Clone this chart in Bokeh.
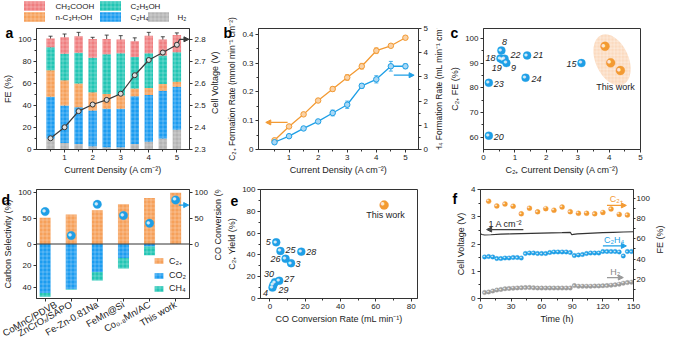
import math
import numpy as np
from bokeh.plotting import figure
from bokeh.models import (Range1d, LinearAxis, Whisker, TeeHead, Arrow, NormalHead, Label,
                          Legend, LegendItem, ColumnDataSource, FixedTicker,
                          CustomJSTickFormatter, Span)
from bokeh.layouts import row, column
from bokeh.core.properties import value
from bokeh.embed import file_html
from bokeh.resources import INLINE

FONT = "Liberation Sans"

# ---------------- data: panel a ----------------
a_j = [0.5, 1.0, 1.5, 2.0, 2.5, 3.0, 3.5, 4.0, 4.5, 5.0]
a_h2 = [10, 6, 5, 3, 2, 2, 5, 7, 10, 18]
a_c2h4 = [38, 34, 33.5, 32.5, 35, 35, 43.5, 42.5, 43.5, 39]
a_c3 = [24, 23, 21.5, 16.5, 13.5, 12, 7, 6.5, 6, 4.5]
a_etoh = [21, 24, 28, 31.5, 36, 38.5, 28.5, 31.5, 26, 27]
a_acoh = [8, 15, 15, 17, 14, 12.5, 14.5, 16, 14.5, 15.5]
a_err_h2 = [2, 1.5, 1.5, 1, 1, 1, 2, 2, 3, 1]
a_err_c2h4 = [1.5, 3, 1.5, 1.5, 3, 3, 1.5, 2, 2, 1]
a_err_c3 = [2, 0.5, 1.5, 0.5, 3, 4, 3, 1, 2, 1]
a_err_etoh = [2, 2, 2, 1.5, 2, 2.5, 4, 2, 2, 1.5]
a_err_acoh = [2, 3, 3.5, 1.5, 3.5, 3.5, 3, 3, 2.5, 2]
a_volt = [2.351, 2.401, 2.474, 2.504, 2.525, 2.553, 2.637, 2.706, 2.740, 2.775]
a_volt_err = [0.006, 0.006, 0.008, 0.006, 0.008, 0.010, 0.012, 0.012, 0.010, 0.006]
a_labels = ["H\u2082", "C\u2082H\u2084", "n-C\u2083H\u2087OH", "C\u2082H\u2085OH", "CH\u2083COOH"]

# ---------------- data: panel b ----------------
b_j = [0.5, 1.0, 1.5, 2.0, 2.5, 3.0, 3.5, 4.0, 4.5, 5.0]
b_c2 = [0.032, 0.080, 0.122, 0.170, 0.210, 0.250, 0.289, 0.343, 0.360, 0.388]
b_c2_err = [0.004, 0.004, 0.004, 0.004, 0.008, 0.010, 0.010, 0.010, 0.003, 0.005]
b_c2h4 = [0.30, 0.55, 0.87, 1.16, 1.51, 1.85, 2.63, 2.90, 3.44, 3.44]
b_c2h4_err = [0.05, 0.05, 0.05, 0.05, 0.12, 0.15, 0.10, 0.15, 0.20, 0.10]

# ---------------- data: panel c ----------------
c_lbl = ["8", "18", "22", "19", "9", "21", "15", "23", "24", "20"]
c_j = [0.57, 0.54, 0.67, 0.61, 0.73, 1.39, 3.12, 0.17, 1.34, 0.17]
c_fe = [95.1, 91.9, 91.8, 91.3, 90.0, 93.1, 90.0, 82.0, 84.1, 60.6]
c_dx = [3, -10, 11, -6, 7, 11, -10, 10, 11, 10]
c_dy = [-8, 0, -4, 8, 5, 0, 1, 1, 1, 1]
c_tw_j = [3.87, 4.05, 4.36]
c_tw_fe = [96.8, 90.1, 87.0]

# ---------------- data: panel d ----------------
d_names = ["CoMnC/PDVB", "ZnCrO\u2093/SAPO", "Fe-Zn-0.81Na", "FeMn@Si", "Co\u2080.\u2088Mn/AC", "This work"]
d_c2 = [50.5, 56.7, 65.2, 76.4, 88.8, 98.9]
d_co2 = [45.0, 41.5, 25.6, 12.8, 2.4, 0.0]
d_ch4 = [3.3, 0.5, 8.0, 9.6, 8.0, 0.0]
d_conv = [62.4, 16.3, 76.4, 55.0, 40.0, 84.8]

# ---------------- data: panel e ----------------
e_lbl = ["5", "25", "28", "26", "3", "27", "30", "29", "4"]
e_rate = [3.6, 6.0, 17.8, 8.9, 12.0, 5.3, 2.9, 2.0, 1.5]
e_yield = [51.5, 43.5, 43.0, 36.4, 32.4, 16.3, 15.0, 12.5, 10.0]
e_dx = [-8, 10, 10, -10, 7, 10, -6, 10, -7]
e_dy = [0, -1, 0, 0, 1, -2, -8, 5, 5]
e_tw_rate = [64.7]
e_tw_yield = [85.7]

# ---------------- data: panel f ----------------
f_t_c2 = [8, 16, 24, 32, 40, 48, 56, 64, 72, 80, 88, 96, 104, 112, 120, 128, 136, 144]
f_fe_c2 = [97.3, 92.7, 94.6, 92.4, 84.9, 90.5, 86.8, 90.0, 88.4, 91.6, 87.0, 85.4, 85.4,
           84.9, 86.2, 89.7, 84.3, 83.8]
f_t = [4, 8, 12, 16, 20, 24, 28, 32, 36, 40, 44, 48, 52, 56, 60, 64, 68, 72, 76, 80, 84, 88,
       92, 96, 100, 104, 108, 112, 116, 120, 124, 128, 132, 136, 140, 144, 148]
f_fe_c2h4 = [42, 42.5, 42, 40.5, 40.5, 41, 41, 41.5, 41.5, 41, 45.5, 46, 46, 45.5, 45.5, 45.5,
             46.5, 47, 47, 47, 47, 46.5, 43.5, 44, 44.5, 45.5, 46, 46, 46, 47.5, 47.5, 47.5,
             47.5, 47, 43, 47.5, 47.5]
f_fe_h2 = [6.8, 7.3, 8.2, 9.2, 9.8, 10.5, 10.8, 11.0, 11.3, 11.5, 11.6, 11.8, 11.4, 11.2, 11.2,
           11.2, 11.2, 11.2, 11.2, 11.2, 11.2, 11.2, 13.6, 13.0, 13.0, 13.0, 13.0, 13.2, 13.3,
           13.5, 13.7, 14.0, 14.4, 15.0, 16.0, 16.6, 17.0]
f_vt = [0, 1.5, 4, 10, 20, 30, 40, 50, 60, 70, 80, 88, 89.5, 91, 95, 100, 110, 120, 130, 140, 150]
f_v = [2.37, 2.35, 2.33, 2.34, 2.36, 2.37, 2.38, 2.39, 2.40, 2.41, 2.42, 2.43, 2.34, 2.35,
       2.37, 2.38, 2.40, 2.42, 2.43, 2.44, 2.45]

# ---------------- colours ----------------
C_RED = "#EF7E80"
C_TEAL = "#22C5B4"
C_ORANGE = "#F6A05A"
C_BLUE = "#1C9CF0"
C_GRAY = "#B4B4B4"
M_ORANGE = "#F39A33"
M_BLUE = "#1E9FE6"
M_GRAY = "#9C9C9C"
HATCH = dict(hatch_pattern="+", hatch_color="white", hatch_alpha=0.45, hatch_scale=4.0, hatch_weight=0.6)

# ---------------- layout sizes ----------------
R1_H = 177          # first row height
R1_TOP = 28         # top border of b, c
R1_BOT = 22         # bottom border of row-1 panels
LG_H = 22           # legend strip above panel a
PA_TOP = 6
R2_H = 169          # second row height
R2_TOP = 12
R2_BOT = 26
D_BOT = 36


def ax_style(ax):
    ax.axis_label_text_font = FONT
    ax.axis_label_text_font_size = "9px"
    ax.axis_label_text_font_style = "normal"
    ax.axis_label_text_color = "#222222"
    ax.axis_label_standoff = 2
    ax.major_label_text_font = FONT
    ax.major_label_text_font_size = "8px"
    ax.major_label_text_color = "#222222"
    ax.major_label_standoff = 2
    ax.major_tick_in = 0
    ax.major_tick_out = 3
    ax.minor_tick_in = 0
    ax.minor_tick_out = 2
    ax.axis_line_color = "#333333"
    ax.major_tick_line_color = "#333333"
    ax.minor_tick_line_color = "#333333"


def fig_style(p):
    p.xgrid.visible = False
    p.ygrid.visible = False
    p.outline_line_color = "#333333"
    p.outline_line_alpha = 1.0
    p.background_fill_color = "white"
    p.border_fill_color = "white"
    for ax in p.axis:
        ax_style(ax)


def mkfig(w, h, l, r, t, b, xr, yr):
    return figure(width=w, height=h, x_range=xr, y_range=yr, output_backend="svg",
                  toolbar_location=None, min_border_left=l, min_border_right=r,
                  min_border_top=t, min_border_bottom=b)


def blank(w, h):
    s = figure(width=w, height=h, x_range=Range1d(0, w), y_range=Range1d(0, h),
               output_backend="svg", toolbar_location=None, x_axis_type=None, y_axis_type=None,
               min_border_left=0, min_border_right=0, min_border_top=0, min_border_bottom=0)
    s.xgrid.visible = False
    s.ygrid.visible = False
    s.outline_line_color = None
    s.background_fill_color = "white"
    s.border_fill_color = "white"
    return s


def vstrip(w, h, x, y, txt, size="9px"):
    """Narrow strip holding a right-hand axis title that reads bottom-to-top."""
    s = blank(w, h)
    s.text(x=[x], y=[y], text=[txt], angle=math.pi / 2, text_font=value(FONT),
           text_font_size=size, text_color="#222222", text_align="center", text_baseline="middle")
    return s


def letter(p, txt, offset, standoff):
    p.title.text = txt
    p.title.align = "left"
    p.title.offset = offset
    p.title.standoff = standoff
    p.title.text_font = FONT
    p.title.text_font_size = "14px"
    p.title.text_font_style = "bold"
    p.title.text_color = "black"


def arrow(p, x0, y0, x1, y1, color, yr="default"):
    p.add_layout(Arrow(end=NormalHead(size=5, fill_color=color, line_color=color),
                       x_start=x0, y_start=y0, x_end=x1, y_end=y1,
                       line_color=color, line_width=1.2, y_range_name=yr))


def note(p, x, y, txt, color="#222222", size="9px", yr="default"):
    p.add_layout(Label(x=x, y=y, text=txt, text_font=FONT, text_font_size=size,
                       text_color=color, text_align="center", text_baseline="middle",
                       y_range_name=yr))


def spheres(p, x, y, color, size, yr="default"):
    p.scatter(x=x, y=y, size=size, fill_color=color, line_color=color, line_alpha=0.6,
              line_width=0.5, y_range_name=yr)
    p.text(x=x, y=y, text=["\u25cf"] * len(x), text_color="white", text_alpha=0.8,
           text_font=value("DejaVu Sans"), text_font_size="%.1fpx" % (size * 0.5),
           x_offset=-size * 0.16, y_offset=-size * 0.14, text_align="center",
           text_baseline="middle", y_range_name=yr)


def whisk(p, x, lo, hi, color, yr="default"):
    src = ColumnDataSource(dict(x=x, lo=lo, hi=hi))
    p.add_layout(Whisker(source=src, base="x", lower="lo", upper="hi", line_color=color,
                         line_width=0.8, y_range_name=yr,
                         upper_head=TeeHead(size=4, line_color=color, line_width=0.8),
                         lower_head=TeeHead(size=4, line_color=color, line_width=0.8)))


# ================= panel a legend strip (pixel-unit canvas) =================
lg = blank(224, LG_H)
# legend layout: (label index, colour, patch-centre x, text x, row y)
lg_items = [(4, C_RED, 34, 55, 16.5), (3, C_TEAL, 110, 130, 16.5),
            (2, C_ORANGE, 34, 55, 5.5), (1, C_BLUE, 110, 130, 5.5), (0, C_GRAY, 158, 177, 5.5)]
lg.rect(x=[it[2] for it in lg_items], y=[it[4] for it in lg_items], width=21, height=9.5,
        fill_color=[it[1] for it in lg_items], line_color=None, **HATCH)
lg.text(x=[it[3] for it in lg_items], y=[it[4] for it in lg_items],
        text=[a_labels[it[0]] for it in lg_items], text_font=value(FONT), text_font_size="8px",
        text_color="#222222", text_align="left", text_baseline="middle")

# ================= panel a =================
PA_H = R1_H - LG_H
pa = mkfig(208, PA_H, 31, 19, PA_TOP, R1_BOT, Range1d(0, 5.45), Range1d(0, 110))
pa.extra_y_ranges = {"v": Range1d(2.3, 2.849)}
src_a = ColumnDataSource(dict(x=a_j, h2=a_h2, c2h4=a_c2h4, c3=a_c3, etoh=a_etoh, acoh=a_acoh))
rs = pa.vbar_stack(["h2", "c2h4", "c3", "etoh", "acoh"], x="x", width=0.3, source=src_a,
                   fill_color=[C_GRAY, C_BLUE, C_ORANGE, C_TEAL, C_RED], line_color=None, **HATCH)
stack = np.array([a_h2, a_c2h4, a_c3, a_etoh, a_acoh], dtype=float)
cum = np.cumsum(stack, axis=0)
errs = np.array([a_err_h2, a_err_c2h4, a_err_c3, a_err_etoh, a_err_acoh], dtype=float)
xs = np.tile(np.array(a_j), 5)
whisk(pa, xs, cum.ravel() - errs.ravel(), cum.ravel() + errs.ravel(), "#222222")
pa.line(a_j, a_volt, y_range_name="v", line_color="#3a3a3a", line_width=1.2)
pa.line([a_j[-1], a_j[-1] + 0.1], [a_volt[-1], 2.8], y_range_name="v", line_color="#3a3a3a", line_width=1.2)
arrow(pa, a_j[-1] + 0.1, 2.8, 5.43, 2.8, "#3a3a3a", "v")
whisk(pa, a_j, np.array(a_volt) - np.array(a_volt_err), np.array(a_volt) + np.array(a_volt_err), "#3a3a3a", "v")
pa.scatter(a_j, a_volt, y_range_name="v", size=5, fill_color="#dddddd", line_color="#333333", line_width=1)
pa.add_layout(LinearAxis(y_range_name="v",
                         ticker=FixedTicker(ticks=[2.3, 2.4, 2.5, 2.6, 2.7, 2.8],
                                            minor_ticks=[2.35, 2.45, 2.55, 2.65, 2.75])), "right")
pa.xaxis.ticker = FixedTicker(ticks=[1, 2, 3, 4, 5], minor_ticks=[0.5, 1.5, 2.5, 3.5, 4.5])
pa.xaxis.axis_label = "Current Density (A cm\u207b\u00b2)"
pa.left[0].ticker = FixedTicker(ticks=[0, 20, 40, 60, 80, 100], minor_ticks=[10, 30, 50, 70, 90])
pa.left[0].axis_label = "FE (%)"
fig_style(pa)
letter(pa, "a", -31, -25)
pa_fh = PA_H - PA_TOP - R1_BOT
sa = vstrip(16, PA_H, 6, PA_H - (PA_TOP + pa_fh / 2), "Cell Voltage (V)")

# ================= panel b =================
r1_fh = R1_H - R1_TOP - R1_BOT
pb = mkfig(208, R1_H, 33, 14, R1_TOP, R1_BOT, Range1d(-0.05, 5.45), Range1d(0, 0.42))
pb.extra_y_ranges = {"r": Range1d(0, 5)}
whisk(pb, b_j, np.array(b_c2) - np.array(b_c2_err), np.array(b_c2) + np.array(b_c2_err), M_ORANGE)
whisk(pb, b_j, np.array(b_c2h4) - np.array(b_c2h4_err), np.array(b_c2h4) + np.array(b_c2h4_err), M_BLUE, "r")
pb.line(b_j, b_c2, line_color=M_ORANGE, line_width=1.3)
pb.scatter(b_j, b_c2, size=5.5, fill_color="#FAD2A6", line_color=M_ORANGE, line_width=1)
pb.line(b_j, b_c2h4, y_range_name="r", line_color=M_BLUE, line_width=1.3)
pb.scatter(b_j, b_c2h4, y_range_name="r", size=5.5, fill_color="#A9D8F5", line_color=M_BLUE, line_width=1)
arrow(pb, 0.95, 0.094, 0.2, 0.094, M_ORANGE)
arrow(pb, 4.6, 3.07, 5.3, 3.07, M_BLUE, "r")
pb.add_layout(LinearAxis(y_range_name="r",
                         ticker=FixedTicker(ticks=[0, 1, 2, 3, 4, 5], minor_ticks=[0.5, 1.5, 2.5, 3.5, 4.5])), "right")
pb.xaxis.ticker = FixedTicker(ticks=[1, 2, 3, 4, 5], minor_ticks=[0.5, 1.5, 2.5, 3.5, 4.5])
pb.xaxis.axis_label = "Current Density (A cm\u207b\u00b2)"
pb.left[0].ticker = FixedTicker(ticks=[0, 0.1, 0.2, 0.3, 0.4], minor_ticks=[0.05, 0.15, 0.25, 0.35])
pb.left[0].axis_label = "C\u2082\u208a Formation Rate (mmol min\u207b\u00b9 cm\u207b\u00b2)"
fig_style(pb)
pb.left[0].axis_label_text_font_size = "8.5px"
letter(pb, "b", -35, -25)
sb = vstrip(15, R1_H, 6, R1_H - (R1_TOP + r1_fh / 2),
            "C\u2082H\u2084 Formation Rate (mL min\u207b\u00b9 cm\u207b\u00b2)", "8.5px")

# ================= panel c =================
pc = mkfig(221, R1_H, 33, 28, R1_TOP, R1_BOT, Range1d(0, 5), Range1d(55, 104))
tw_cx = float(np.mean(c_tw_j))
tw_cy = float(np.mean(c_tw_fe))
pc.ellipse(x=[tw_cx], y=[tw_cy], width=33, height=54, angle=0.42, width_units="screen",
           height_units="screen", fill_color="#F7AE72", fill_alpha=0.45, line_color=None,
           hatch_pattern="+", hatch_color="white", hatch_alpha=0.55, hatch_scale=3.5, hatch_weight=0.6)
spheres(pc, c_j, c_fe, M_BLUE, 8)
spheres(pc, c_tw_j, c_tw_fe, M_ORANGE, 9)
src_c = ColumnDataSource(dict(x=c_j, y=c_fe, t=c_lbl, dx=c_dx, dy=c_dy))
pc.text(x="x", y="y", text="t", x_offset="dx", y_offset="dy", source=src_c, text_font=value(FONT),
        text_font_size="9px", text_font_style="italic", text_color="#222222",
        text_align="center", text_baseline="middle")
note(pc, 4.2, 80.4, "This work")
pc.xaxis.ticker = FixedTicker(ticks=[0, 1, 2, 3, 4, 5], minor_ticks=[0.5, 1.5, 2.5, 3.5, 4.5])
pc.xaxis.axis_label = "C\u2082\u208a Current Density (A cm\u207b\u00b2)"
pc.yaxis.ticker = FixedTicker(ticks=[60, 70, 80, 90, 100], minor_ticks=[65, 75, 85, 95])
pc.yaxis.axis_label = "C\u2082\u208a FE (%)"
fig_style(pc)
letter(pc, "c", -33, -25)

# ================= panel d =================
POS = 105.0
NEG = 50.0
d_fh = R2_H - R2_TOP - D_BOT
pd_ = mkfig(211, R2_H, 36, 22, R2_TOP, D_BOT, Range1d(-0.33, 5.53), Range1d(-POS, POS))
pd_.extra_y_ranges = {"neg": Range1d(-NEG, NEG)}
d_x = list(range(len(d_names)))
co2 = np.array(d_co2)
ch4 = np.array(d_ch4)
r_c2 = pd_.vbar(x=d_x, top=d_c2, bottom=0, width=0.42, fill_color=C_ORANGE, line_color=None, **HATCH)
r_co2 = pd_.vbar(x=d_x, top=0, bottom=-co2, width=0.42, fill_color=C_BLUE, line_color=None,
                 y_range_name="neg", **HATCH)
r_ch4 = pd_.vbar(x=d_x, top=-co2, bottom=-(co2 + ch4), width=0.42, fill_color=C_TEAL,
                 line_color=None, y_range_name="neg", **HATCH)
pd_.add_layout(Span(location=0, dimension="width", line_color="#333333", line_width=1))
spheres(pd_, d_x, d_conv, M_BLUE, 8.5)
arrow(pd_, d_x[-1] + 0.12, 75, 5.5, 75, M_BLUE)
pd_.add_layout(LinearAxis(ticker=FixedTicker(ticks=[0, 50, 100])), "right")
pd_.left[0].ticker = FixedTicker(ticks=[100, 50, 0] + [-v * POS / NEG for v in (20, 40)])
pd_.left[0].formatter = CustomJSTickFormatter(
    code="return tick < 0 ? String(Math.round(-tick * %f / %f)) : String(Math.round(tick));" % (NEG, POS))
pd_.left[0].axis_label = "Carbon Selectivity (%)"
pd_.xaxis.ticker = FixedTicker(ticks=d_x)
pd_.xaxis.major_label_overrides = {i: n for i, n in enumerate(d_names)}
pd_.xaxis.major_label_orientation = 0.52
leg_d = Legend(items=[LegendItem(label="C\u2082\u208a", renderers=[r_c2]),
                      LegendItem(label="CO\u2082", renderers=[r_co2]),
                      LegendItem(label="CH\u2084", renderers=[r_ch4])],
               location=(117, 5), glyph_width=11, glyph_height=7, label_height=10, spacing=3,
               padding=0, margin=0, label_standoff=5, border_line_color=None,
               background_fill_alpha=0, label_text_font=FONT, label_text_font_size="9px",
               label_text_color="#222222")
pd_.add_layout(leg_d)
fig_style(pd_)
pd_.xaxis.major_label_text_font_size = "9.5px"
letter(pd_, "d", -35, -36)
sd = vstrip(13, R2_H, 6, R2_H - (R2_TOP + 0.31 * d_fh), "CO Conversion (%)")

# ================= panel e =================
r2_fh = R2_H - R2_TOP - R2_BOT
pe = mkfig(223, R2_H, 33, 30, R2_TOP, R2_BOT, Range1d(-5.3, 83.6), Range1d(0, 100))
spheres(pe, e_rate, e_yield, M_BLUE, 8)
spheres(pe, e_tw_rate, e_tw_yield, M_ORANGE, 9)
src_e = ColumnDataSource(dict(x=e_rate, y=e_yield, t=e_lbl, dx=e_dx, dy=e_dy))
pe.text(x="x", y="y", text="t", x_offset="dx", y_offset="dy", source=src_e, text_font=value(FONT),
        text_font_size="9px", text_font_style="italic", text_color="#222222",
        text_align="center", text_baseline="middle")
note(pe, 65.5, 76.5, "This work")
pe.xaxis.ticker = FixedTicker(ticks=[0, 20, 40, 60, 80], minor_ticks=[10, 30, 50, 70])
pe.xaxis.axis_label = "CO Conversion Rate (mL min\u207b\u00b9)"
pe.yaxis.ticker = FixedTicker(ticks=[0, 20, 40, 60, 80, 100], minor_ticks=[10, 30, 50, 70, 90])
pe.yaxis.axis_label = "C\u2082\u208a Yield (%)"
fig_style(pe)
letter(pe, "e", -30, -32)

# ================= panel f =================
pf = mkfig(205, R2_H, 33, 16, R2_TOP, R2_BOT, Range1d(0, 150), Range1d(0, 4))
pf.extra_y_ranges = {"fe": Range1d(0.8, 109)}
pf.line(f_vt, f_v, line_color="#333333", line_width=1.2)
spheres(pf, f_t_c2, f_fe_c2, M_ORANGE, 5, "fe")
spheres(pf, f_t, f_fe_c2h4, M_BLUE, 4.5, "fe")
spheres(pf, f_t, f_fe_h2, M_GRAY, 4.5, "fe")
note(pf, 24.6, 2.72, "1 A cm\u207b\u00b2")
arrow(pf, 42, 2.53, 6, 2.53, "#444444")
note(pf, 133, 99.5, "C\u2082\u208a", color=M_ORANGE, yr="fe")
arrow(pf, 124, 93.2, 143, 93.2, M_ORANGE, "fe")
note(pf, 131, 58.9, "C\u2082H\u2084", color=M_BLUE, yr="fe")
arrow(pf, 120, 53, 143, 53, M_BLUE, "fe")
note(pf, 132, 27, "H\u2082", color="#888888", yr="fe")
arrow(pf, 124, 21.6, 140, 21.6, "#999999", "fe")
pf.add_layout(LinearAxis(y_range_name="fe",
                         ticker=FixedTicker(ticks=[20, 40, 60, 80, 100], minor_ticks=[10, 30, 50, 70, 90])), "right")
pf.xaxis.ticker = FixedTicker(ticks=[0, 30, 60, 90, 120, 150], minor_ticks=[15, 45, 75, 105, 135])
pf.xaxis.axis_label = "Time (h)"
pf.left[0].ticker = FixedTicker(ticks=[0, 1, 2, 3, 4], minor_ticks=[0.5, 1.5, 2.5, 3.5])
pf.left[0].axis_label = "Cell Voltage (V)"
fig_style(pf)
pf.right[0].major_tick_out = 2
pf.right[0].major_label_standoff = 1
letter(pf, "f", -28, -34)
sf = vstrip(16, R2_H, 7, R2_H - (R2_TOP + r2_fh / 2), "FE (%)")

layout = column(row(column(lg, row(pa, sa)), pb, sb, pc), row(pd_, sd, pe, pf, sf))
open("out.html", "w").write(file_html(layout, INLINE))
